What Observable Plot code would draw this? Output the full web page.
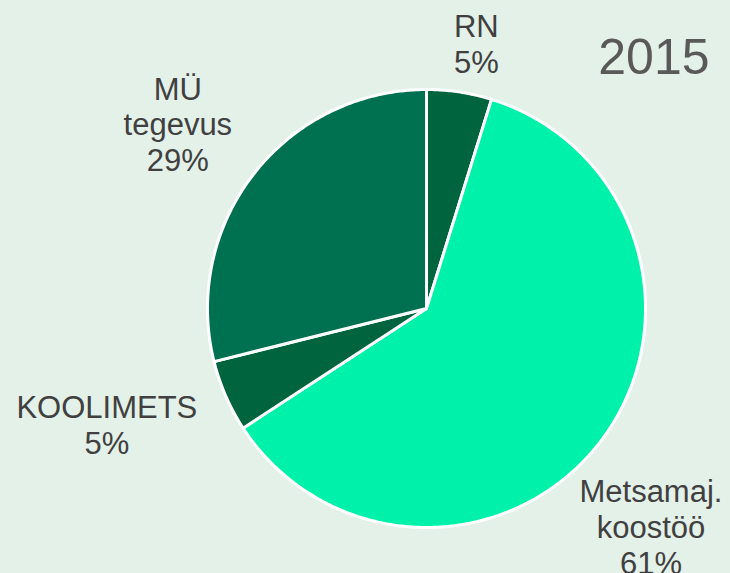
<!DOCTYPE html>
<html>
<head>
<meta charset="utf-8">
<script src="https://cdn.jsdelivr.net/npm/d3@7"></script>
<script src="https://cdn.jsdelivr.net/npm/@observablehq/plot@0.6"></script>
<style>
  html, body { margin: 0; padding: 0; background: #e4f1e9; }
  #chart svg { display: block; }
</style>
</head>
<body>
<div id="chart"></div>
<script>
// ---- data ----
const categories = ["RN", "Metsamaj.\nkoostöö", "KOOLIMETS", "MÜ\ntegevus"];
const values = [4.8, 61.0, 5.3, 28.9];
const percentLabels = ["5%", "61%", "5%", "29%"];
const sliceColors = ["#00643f", "#00f2aa", "#00643f", "#007150"];
const chartTitle = "2015";

// ---- label layout (angle nudge in degrees, radius factor) ----
const labelNudge = [2.0, 7.1, 3.6, -1.4];
const labelRadius = [1.233, 1.429, 1.553, 1.414];

// ---- geometry ----
const pie = d3.pie().sort(null).value(d => d.value);
const rows = categories.map((c, i) => ({cat: c, value: values[i], pct: percentLabels[i], color: sliceColors[i], i}));
const arcs = pie(rows);

const slicePts = [];
arcs.forEach(a => {
  const n = Math.max(4, Math.ceil((a.endAngle - a.startAngle) / (Math.PI / 360)));
  slicePts.push({x: 0, y: 0, cat: a.data.cat, color: a.data.color});
  for (let k = 0; k <= n; k++) {
    const t = a.startAngle + (a.endAngle - a.startAngle) * k / n;
    slicePts.push({x: Math.sin(t), y: Math.cos(t), cat: a.data.cat, color: a.data.color});
  }
  slicePts.push({x: 0, y: 0, cat: a.data.cat, color: a.data.color});
});

const labels = arcs.map(a => {
  const i = a.data.i;
  const mid = (a.startAngle + a.endAngle) / 2 + labelNudge[i] * Math.PI / 180;
  const r = labelRadius[i];
  return {x: r * Math.sin(mid), y: r * Math.cos(mid), text: a.data.cat + "\n" + a.data.pct};
});

const R = 219, cx = 426, cy = 308;
const chart = Plot.plot({
  width: 730,
  height: 573,
  margin: 0,
  style: {background: "#e4f1e9", fontFamily: "'Liberation Sans', Arial, sans-serif", overflow: "visible"},
  x: {domain: [-1, 1], range: [cx - R, cx + R], axis: null},
  y: {domain: [-1, 1], range: [cy + R, cy - R], axis: null},
  marks: [
    Plot.line(slicePts, {x: "x", y: "y", z: "cat", fill: "color", stroke: "white", strokeWidth: 3, strokeLinejoin: "round", curve: "linear"}),
    Plot.text(labels, {x: "x", y: "y", text: "text", fontSize: 31, lineHeight: 1.16, fill: "#404040", lineAnchor: "middle", textAnchor: "middle"}),
    Plot.text([chartTitle], {frameAnchor: "top-right", text: d => d, fontSize: 50, fill: "#595959", textAnchor: "end", lineAnchor: "top", dx: -21, dy: 38})
  ]
});
document.getElementById("chart").appendChild(chart);
</script>
</body>
</html>
